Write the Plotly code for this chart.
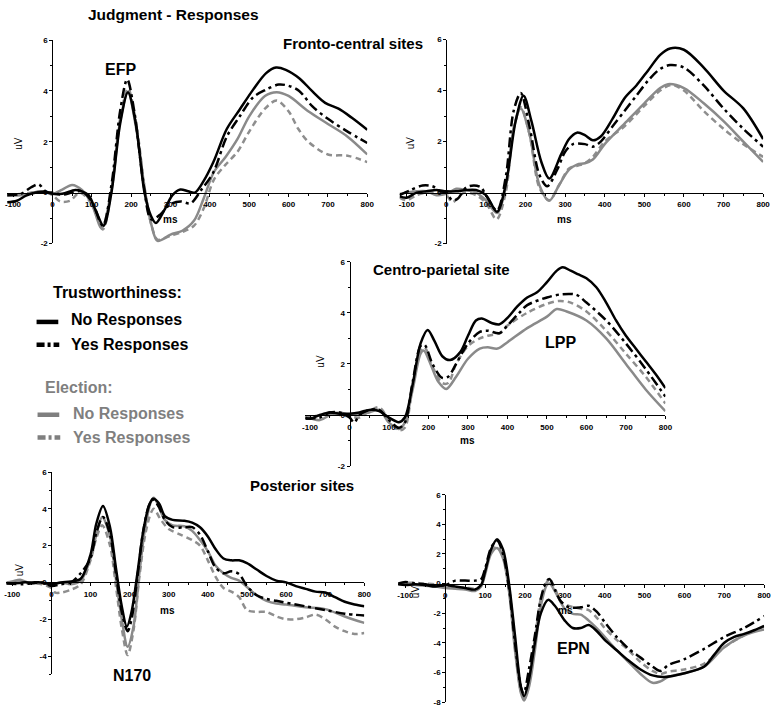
import plotly.graph_objects as go

W, H = 781, 712
FONT = "Liberation Sans, Arial, sans-serif"

# ---------------- data: (ms, uV) pairs ----------------
# Fronto-central (left)
FCL_TRUST_NO = [(-115, -0.38), (-90, -0.32), (-67, -0.12), (-42, 0.0), (-17, 0.03), (0, -0.05), (25, -0.05), (58, 0.1),
                (75, 0.05), (92, -0.1), (110, -0.7), (130, -1.3), (150, 0.0), (172, 2.7), (192, 3.95), (212, 2.7),
                (234, 0.0), (250, -0.9), (263, -1.2), (284, -0.7), (305, -0.1), (325, 0.12), (345, 0.05), (362, 0.0),
                (384, 0.45), (409, 1.2), (443, 2.5), (476, 3.27), (510, 4.05), (543, 4.7), (568, 4.92), (593, 4.83),
                (627, 4.5), (660, 3.99), (693, 3.53), (727, 3.3), (760, 2.95), (800, 2.47)]
FCL_TRUST_YES = [(-115, -0.1), (-80, -0.05), (-55, 0.2), (-35, 0.32), (-15, 0.02), (0, 0.0), (25, -0.08), (50, 0.0),
                 (75, 0.05), (100, -0.35), (128, -1.3), (150, 0.3), (172, 3.2), (190, 4.45), (208, 3.2), (232, 0.3),
                 (251, -1.05), (275, -0.85), (300, -0.45), (326, -0.35), (351, -0.42), (378, 0.1), (409, 0.8),
                 (443, 2.2), (476, 3.0), (510, 3.75), (543, 4.05), (575, 4.25), (600, 4.2), (627, 4.0), (660, 3.4),
                 (700, 2.9), (750, 2.4), (800, 1.95)]
FCL_ELECT_NO = [(-115, -0.1), (-75, -0.1), (-50, 0.0), (-25, 0.05), (0, -0.05), (25, 0.12), (50, 0.3), (75, 0.1),
                (100, -0.45), (125, -1.4), (150, 0.1), (172, 2.8), (192, 3.95), (212, 2.6), (236, 0.0), (252, -1.3),
                (267, -1.9), (300, -1.65), (330, -1.5), (360, -1.1), (385, -0.2), (410, 0.8), (440, 1.4), (470, 2.1),
                (500, 3.0), (540, 3.8), (570, 3.95), (600, 3.8), (650, 3.2), (700, 2.7), (750, 2.2), (800, 1.5)]
FCL_ELECT_YES = [(-115, -0.1), (-75, -0.05), (-50, 0.0), (-25, 0.05), (0, -0.1), (20, -0.35), (45, -0.32), (70, 0.0),
                 (100, -0.45), (128, -1.45), (150, 0.1), (172, 2.9), (192, 4.1), (212, 2.8), (236, 0.0), (252, -1.3),
                 (267, -1.85), (300, -1.7), (330, -1.55), (360, -1.3), (385, -0.6), (410, 0.5), (440, 1.1), (470, 1.6),
                 (500, 2.4), (540, 3.3), (570, 3.62), (600, 3.2), (625, 2.5), (650, 2.0), (700, 1.5), (750, 1.45),
                 (800, 1.2)]

# Fronto-central (right)
FCR_TRUST_NO = [(-118, -0.15), (-100, -0.2), (-75, 0.0), (-50, 0.05), (-25, 0.1), (0, 0.05), (25, 0.05), (50, 0.1),
                (75, 0.1), (100, -0.1), (128, -0.75), (150, 0.3), (175, 2.8), (195, 3.8), (215, 2.8), (240, 1.2),
                (260, 0.55), (290, 1.5), (310, 2.1), (330, 2.35), (350, 2.25), (370, 2.05), (390, 2.2), (420, 2.9),
                (450, 3.7), (480, 4.2), (510, 4.8), (540, 5.4), (565, 5.65), (600, 5.6), (650, 4.9), (700, 4.0),
                (750, 3.3), (800, 2.1)]
FCR_TRUST_YES = [(-118, -0.1), (-90, 0.1), (-60, 0.28), (-35, 0.25), (-15, 0.05), (0, 0.0), (15, -0.3), (28, -0.25),
                 (50, 0.2), (70, 0.28), (88, 0.2), (100, -0.1), (128, -0.7), (150, 0.6), (170, 3.2), (188, 3.9),
                 (210, 2.6), (235, 0.7), (255, 0.25), (280, 0.9), (300, 1.6), (320, 1.9), (350, 1.9), (370, 1.8),
                 (390, 2.0), (420, 2.6), (450, 3.2), (480, 3.8), (510, 4.4), (540, 4.85), (565, 5.0), (600, 4.9),
                 (650, 4.2), (700, 3.3), (750, 2.5), (800, 1.8)]
FCR_ELECT_NO = [(-118, -0.05), (-100, 0.0), (-75, 0.05), (-50, 0.05), (-25, -0.1), (0, -0.05), (25, 0.15), (50, 0.1),
                (75, 0.0), (100, -0.3), (128, -0.8), (150, 0.2), (170, 2.5), (188, 3.3), (210, 2.3), (235, 0.3),
                (260, -0.32), (285, 0.3), (310, 0.9), (330, 1.1), (350, 1.15), (370, 1.3), (400, 1.9), (450, 2.7),
                (500, 3.5), (540, 4.1), (560, 4.25), (600, 4.1), (650, 3.5), (700, 2.8), (750, 2.0), (800, 1.2)]
FCR_ELECT_YES = [(-118, -0.2), (-100, -0.3), (-75, -0.1), (-50, 0.0), (-25, 0.0), (0, -0.1), (15, -0.38), (30, -0.2),
                 (45, 0.0), (75, -0.1), (100, -0.4), (127, -1.05), (150, 0.0), (170, 2.5), (188, 3.35), (210, 2.3),
                 (235, 0.2), (260, -0.3), (285, 0.3), (310, 0.95), (330, 1.05), (350, 1.15), (370, 1.4), (400, 2.0),
                 (450, 2.6), (500, 3.4), (540, 4.0), (570, 4.22), (600, 4.0), (650, 3.2), (700, 2.5), (750, 1.9),
                 (800, 1.4)]

# Centro-parietal
CP_TRUST_NO = [(-112, -0.1), (-100, -0.15), (-75, 0.0), (-50, 0.1), (-25, 0.05), (0, 0.05), (25, 0.1), (50, 0.2),
               (75, 0.15), (100, -0.1), (125, -0.28), (140, -0.1), (160, 1.2), (180, 2.8), (198, 3.33), (215, 2.9),
               (235, 2.3), (255, 2.15), (280, 2.45), (300, 3.1), (320, 3.7), (335, 3.78), (360, 3.6), (380, 3.55),
               (400, 3.8), (425, 4.25), (450, 4.6), (475, 4.8), (500, 5.2), (525, 5.65), (540, 5.78), (560, 5.65),
               (580, 5.5), (600, 5.35), (625, 5.0), (650, 4.4), (675, 3.7), (700, 3.1), (725, 2.6), (750, 2.1),
               (775, 1.6), (800, 1.05)]
CP_TRUST_YES = [(-112, -0.15), (-75, -0.1), (-50, 0.1), (-25, 0.1), (0, -0.1), (12, -0.3), (25, 0.0), (50, 0.2),
                (75, 0.2), (100, -0.2), (125, -0.5), (140, -0.3), (160, 1.3), (180, 2.7), (190, 2.75), (210, 2.0),
                (235, 1.45), (250, 1.5), (270, 2.0), (300, 2.8), (330, 3.25), (350, 3.3), (380, 3.2), (400, 3.5),
                (430, 4.0), (450, 4.3), (500, 4.6), (540, 4.73), (575, 4.7), (600, 4.4), (650, 3.7), (700, 2.8),
                (750, 1.8), (800, 0.72)]
CP_ELECT_NO = [(-112, -0.05), (-75, -0.2), (-50, 0.0), (-25, 0.1), (0, 0.0), (25, 0.05), (50, 0.1), (75, 0.2),
               (100, -0.3), (125, -0.55), (140, -0.3), (160, 1.0), (180, 2.4), (188, 2.52), (205, 2.0), (225, 1.3),
               (245, 1.02), (270, 1.5), (300, 2.2), (330, 2.6), (350, 2.65), (375, 2.6), (400, 2.85), (450, 3.4),
               (500, 3.85), (525, 4.15), (550, 4.05), (600, 3.7), (650, 3.0), (700, 2.0), (750, 1.0), (800, 0.15)]
CP_ELECT_YES = [(-112, -0.1), (-75, 0.0), (-50, 0.1), (-25, 0.0), (0, -0.05), (25, -0.1), (50, 0.15), (75, 0.3),
                (100, -0.2), (125, -0.6), (140, -0.5), (160, 1.2), (180, 2.5), (190, 2.65), (210, 1.9), (235, 1.25),
                (250, 1.25), (270, 2.0), (300, 2.7), (330, 3.0), (350, 3.1), (380, 3.2), (400, 3.5), (450, 4.0),
                (500, 4.35), (530, 4.46), (560, 4.4), (600, 4.05), (650, 3.3), (700, 2.4), (750, 1.5), (800, 0.45)]

# Posterior (left)
PL_TRUST_NO = [(-115, -0.05), (-100, -0.05), (-75, 0.0), (-50, 0.0), (-25, 0.0), (0, -0.1), (25, 0.0), (50, 0.05),
               (75, 0.2), (100, 1.5), (115, 3.2), (132, 4.15), (150, 3.0), (165, 0.8), (180, -1.3), (193, -2.4),
               (205, -1.6), (220, 0.5), (235, 2.8), (250, 4.2), (260, 4.55), (275, 4.3), (290, 3.6), (310, 3.4),
               (340, 3.35), (360, 3.25), (380, 3.0), (400, 2.5), (420, 1.8), (440, 1.3), (460, 1.2), (480, 1.2),
               (500, 1.05), (525, 0.7), (550, 0.35), (575, 0.1), (600, 0.0), (625, -0.2), (650, -0.35), (675, -0.5),
               (700, -0.55), (725, -0.8), (750, -1.05), (775, -1.2), (800, -1.3)]
PL_TRUST_YES = [(-115, -0.05), (-75, -0.1), (-50, -0.05), (-25, 0.0), (0, -0.2), (25, -0.1), (50, 0.0), (75, 0.5),
                (100, 1.3), (115, 2.7), (132, 3.55), (150, 2.6), (165, 0.5), (180, -1.6), (195, -2.65), (205, -2.0),
                (220, 0.3), (235, 2.8), (250, 4.2), (260, 4.5), (275, 4.1), (290, 3.4), (310, 3.0), (340, 3.0),
                (360, 3.0), (380, 2.6), (400, 1.7), (420, 0.8), (440, 0.5), (460, 0.6), (480, 0.45), (500, -0.2),
                (525, -0.7), (550, -0.9), (575, -1.0), (600, -1.1), (650, -1.3), (700, -1.5), (750, -1.7),
                (800, -1.8)]
PL_ELECT_NO = [(-115, 0.0), (-100, 0.05), (-80, 0.15), (-60, 0.0), (-25, -0.05), (0, -0.1), (25, 0.0), (50, -0.1),
               (75, 0.1), (100, 1.3), (115, 2.6), (130, 3.55), (150, 2.5), (165, 0.2), (180, -2.0), (195, -3.5),
               (210, -2.4), (225, 0.5), (240, 3.0), (255, 4.4), (262, 4.6), (275, 4.1), (290, 3.4), (310, 3.1),
               (340, 3.05), (360, 2.8), (380, 2.3), (400, 1.7), (420, 0.9), (440, 0.5), (460, 0.25), (480, 0.1),
               (500, -0.25), (525, -0.7), (550, -1.0), (575, -1.15), (600, -1.2), (650, -1.35), (700, -1.45),
               (750, -1.85), (800, -2.2)]
PL_ELECT_YES = [(-115, -0.05), (-75, -0.05), (-50, -0.05), (-25, -0.1), (0, -0.3), (10, -0.55), (25, -0.55),
                (50, -0.4), (75, -0.1), (100, 1.2), (115, 2.4), (130, 3.1), (150, 2.0), (165, -0.2), (180, -2.5),
                (195, -3.95), (210, -2.6), (225, 0.3), (240, 2.6), (255, 3.8), (262, 4.0), (280, 3.4), (300, 2.9),
                (330, 2.6), (360, 2.3), (380, 2.0), (400, 1.2), (420, 0.3), (440, -0.3), (460, -0.5), (480, -0.8),
                (500, -1.5), (525, -1.6), (550, -1.6), (575, -1.85), (600, -2.0), (625, -2.0), (650, -1.9),
                (675, -1.75), (700, -2.0), (725, -2.4), (750, -2.65), (775, -2.8), (800, -2.75)]

# Posterior (right)
PR_TRUST_NO = [(-118, -0.05), (-100, -0.1), (-75, -0.05), (-50, -0.1), (-25, -0.2), (0, -0.1), (25, -0.2), (50, -0.3),
               (75, -0.4), (90, -0.1), (100, 0.8), (115, 2.3), (130, 3.0), (145, 2.3), (160, 0.0), (175, -3.5),
               (190, -7.0), (198, -7.6), (210, -6.5), (225, -4.0), (240, -2.0), (258, -1.1), (275, -1.5), (300, -2.5),
               (320, -3.0), (340, -3.0), (360, -2.8), (380, -3.2), (400, -3.8), (430, -4.5), (460, -5.2), (490, -5.8),
               (520, -6.2), (550, -6.3), (600, -6.05), (650, -5.6), (675, -4.8), (700, -4.0), (725, -3.6),
               (750, -3.4), (775, -3.15), (800, -2.85)]
PR_TRUST_YES = [(-118, 0.0), (-100, 0.1), (-75, 0.0), (-50, -0.05), (-25, -0.15), (0, -0.1), (10, 0.0), (25, 0.2),
                (50, 0.2), (75, 0.2), (90, 0.3), (100, 1.0), (115, 2.4), (130, 2.9), (145, 2.0), (160, -0.3),
                (175, -4.0), (190, -7.0), (197, -7.4), (210, -5.8), (225, -3.5), (240, -1.0), (255, 0.2), (262, 0.3),
                (275, -0.4), (290, -1.2), (310, -1.6), (340, -1.6), (360, -1.5), (380, -1.9), (400, -2.6),
                (430, -3.6), (460, -4.4), (490, -5.0), (520, -5.6), (540, -5.9), (560, -5.5), (600, -5.1),
                (650, -4.4), (700, -3.6), (750, -3.0), (800, -2.2)]
PR_ELECT_NO = [(-118, -0.05), (-100, 0.0), (-75, -0.1), (-50, -0.15), (-25, -0.2), (0, -0.3), (25, -0.35), (50, -0.4),
               (75, -0.5), (90, -0.2), (100, 0.6), (115, 2.0), (130, 2.4), (145, 1.7), (160, -0.5), (175, -4.5),
               (190, -7.4), (198, -7.9), (210, -7.0), (225, -4.5), (240, -1.5), (255, -0.1), (262, 0.0), (275, -0.5),
               (300, -1.7), (320, -2.05), (340, -2.1), (360, -2.5), (380, -3.0), (400, -3.6), (430, -4.5),
               (460, -5.3), (490, -6.1), (520, -6.7), (540, -6.6), (560, -6.3), (600, -6.05), (650, -5.6),
               (700, -4.3), (750, -3.5), (800, -3.1)]
PR_ELECT_YES = [(-118, 0.0), (-100, 0.05), (-75, 0.05), (-50, 0.0), (-25, -0.05), (0, -0.2), (25, -0.3), (50, -0.25),
                (75, -0.35), (90, -0.1), (100, 0.8), (115, 2.1), (130, 2.5), (145, 1.8), (160, -0.4), (175, -4.3),
                (190, -7.3), (198, -7.8), (210, -6.5), (225, -3.8), (240, -1.0), (255, 0.1), (262, 0.3), (275, -0.3),
                (290, -1.2), (310, -1.5), (340, -1.7), (360, -1.8), (380, -2.3), (400, -3.0), (430, -3.8),
                (460, -4.5), (490, -5.3), (520, -5.9), (540, -6.1), (560, -5.95), (600, -5.8), (650, -5.4),
                (700, -4.3), (750, -3.5), (800, -2.9)]

X_TICKS = [-100, 0, 100, 200, 300, 400, 500, 600, 700, 800]
X_TICK_TEXT = ["-100", "0", "100", "200", "300", "400", "500", "600", "700", "800"]

SERIES_NAMES = ["Trustworthiness: No", "Trustworthiness: Yes", "Election: No", "Election: Yes"]

BLACK = "#000000"
GREY = "#8a8a8a"
GREY_D = "#8e8e8e"
STYLES = [
    dict(color=BLACK, width=2.5, dash="solid"),
    dict(color=BLACK, width=2.5, dash="10px,4px,3px,4px"),
    dict(color=GREY, width=2.5, dash="solid"),
    dict(color=GREY_D, width=2.5, dash="6px,4px"),
]

# panel geometry in pixels
PANELS = [
    dict(curves=[FCL_TRUST_NO, FCL_TRUST_YES, FCL_ELECT_NO, FCL_ELECT_YES], xmin=-115, left=4.2, right=369,
         ymin=-2, ymax=6, top=36.5, bottom=242.5, ms=(301, -1.05), uv=(-88, 1.95)),
    dict(curves=[FCR_TRUST_NO, FCR_TRUST_YES, FCR_ELECT_NO, FCR_ELECT_YES], xmin=-118, left=401.7, right=770,
         ymin=-2, ymax=6, top=36, bottom=242.7, ms=(299, -1.05), uv=(-92, 1.97)),
    dict(curves=[CP_TRUST_NO, CP_TRUST_YES, CP_ELECT_NO, CP_ELECT_YES], xmin=-112, left=306.2, right=671,
         ymin=-2, ymax=6, top=261, bottom=468, ms=(300, -1.0), uv=(-72, 2.09)),
    dict(curves=[PL_TRUST_NO, PL_TRUST_YES, PL_ELECT_NO, PL_ELECT_YES], xmin=-115, left=3.4, right=366,
         ymin=-5, ymax=6, top=474, bottom=679, ms=(298, -1.5), uv=(-81, 0.69)),
    dict(curves=[PR_TRUST_NO, PR_TRUST_YES, PR_ELECT_NO, PR_ELECT_YES], xmin=-118, left=400.3, right=771,
         ymin=-8, ymax=6, top=497, bottom=707, ms=(302, -1.8), uv=(-74, -0.53)),
]


def pxx(x):
    return x / W


def pxy(y):
    return 1 - y / H


fig = go.Figure()
layout = dict(width=W, height=H, margin=dict(l=0, r=0, t=0, b=0), showlegend=False,
              paper_bgcolor="white", plot_bgcolor="rgba(0,0,0,0)", font=dict(family=FONT, color="black"))
annotations = []

for i, p in enumerate(PANELS):
    n = "" if i == 0 else str(i + 1)
    xa, ya = "x" + n, "y" + n
    xmax = 800
    y0_px = p["top"] + (p["ymax"] - 0) / (p["ymax"] - p["ymin"]) * (p["bottom"] - p["top"])
    x0_px = p["left"] + (0 - p["xmin"]) / (xmax - p["xmin"]) * (p["right"] - p["left"])
    yt = list(range(p["ymin"] + (p["ymin"] % 2), p["ymax"] + 1, 2))
    layout["xaxis" + n] = dict(
        domain=[pxx(p["left"]), pxx(p["right"])], range=[p["xmin"], xmax], anchor="free", position=pxy(y0_px),
        showgrid=False, zeroline=False, showline=True, linecolor="black", linewidth=1,
        ticks="outside", ticklen=3, tickwidth=1, tickcolor="black", tickvals=X_TICKS, ticktext=X_TICK_TEXT,
        tickfont=dict(size=8, family=FONT, weight="bold"), ticklabelstandoff=1,
        minor=dict(ticks="outside", ticklen=2, dtick=50, tick0=0, tickcolor="black", showgrid=False),
        fixedrange=True)
    layout["yaxis" + n] = dict(
        domain=[pxy(p["bottom"]), pxy(p["top"])], range=[p["ymin"], p["ymax"]], anchor="free", position=pxx(x0_px),
        showgrid=False, zeroline=False, showline=True, linecolor="black", linewidth=1,
        ticks="outside", ticklen=3, tickwidth=1, tickcolor="black", tickvals=yt, ticktext=[str(v) for v in yt],
        tickfont=dict(size=8, family=FONT, weight="bold"),
        minor=dict(ticks="outside", ticklen=2, dtick=1, tick0=0, tickcolor="black", showgrid=False),
        fixedrange=True)
    order = [3, 2, 1, 0]
    for k in order:
        pts = p["curves"][k]
        fig.add_trace(go.Scatter(
            x=[t for t, _ in pts], y=[v for _, v in pts], mode="lines", name=SERIES_NAMES[k],
            line=dict(color=STYLES[k]["color"], width=STYLES[k]["width"], dash=STYLES[k]["dash"],
                      shape="spline", smoothing=0.9),
            xaxis=xa, yaxis=ya, cliponaxis=True, hoverinfo="skip"))
    annotations.append(dict(x=p["ms"][0], y=p["ms"][1], xref=xa, yref=ya, text="ms", showarrow=False,
                            font=dict(size=10, family=FONT, weight="bold", color="black")))
    annotations.append(dict(x=p["uv"][0], y=p["uv"][1], xref=xa, yref=ya, text="uV", showarrow=False,
                            textangle=-90, font=dict(size=10, family=FONT, color="black")))


def label(text, x, y, size, color="black", anchor="center", weight="bold"):
    annotations.append(dict(x=pxx(x), y=pxy(y), xref="paper", yref="paper", text=text, showarrow=False,
                            xanchor=anchor, yanchor="middle",
                            font=dict(size=size, family=FONT, color=color, weight=weight)))


label("Judgment - Responses", 173, 11, 15.5)
label("Fronto-central sites", 355, 40, 15)
label("EFP", 119, 66, 16)
label("Centro-parietal site", 444, 269, 15)
label("LPP", 565, 343, 16)
label("Posterior sites", 303, 488, 15)
label("N170", 131, 680, 16)
label("EPN", 578, 653, 16)

LEG_GREY = "#7f7f7f"
label("Trustworthiness:", 49, 292, 16, anchor="left")
label("No Responses", 67, 320, 16, anchor="left")
label("Yes Responses", 67, 345, 16, anchor="left")
label("Election:", 41, 388, 16, color=LEG_GREY, anchor="left")
label("No Responses", 69, 415, 16, color=LEG_GREY, anchor="left")
label("Yes Responses", 69, 439, 16, color=LEG_GREY, anchor="left")

shapes = []
for (x0, x1, y, col, dash) in [(34, 56, 322, BLACK, "solid"), (34, 57, 345, BLACK, "8px,3px,3px,3px"),
                               (35, 57, 416, LEG_GREY, "solid"), (35, 58, 439, LEG_GREY, "8px,3px,3px,3px")]:
    shapes.append(dict(type="line", xref="paper", yref="paper", x0=pxx(x0), x1=pxx(x1), y0=pxy(y), y1=pxy(y),
                       line=dict(color=col, width=4.5, dash=dash)))

layout["annotations"] = annotations
layout["shapes"] = shapes
fig.update_layout(**layout)
fig.write_html("out.html", config={"displayModeBar": False, "staticPlot": True},
               post_script="document.body.style.margin='0px';document.body.style.overflow='hidden';")
